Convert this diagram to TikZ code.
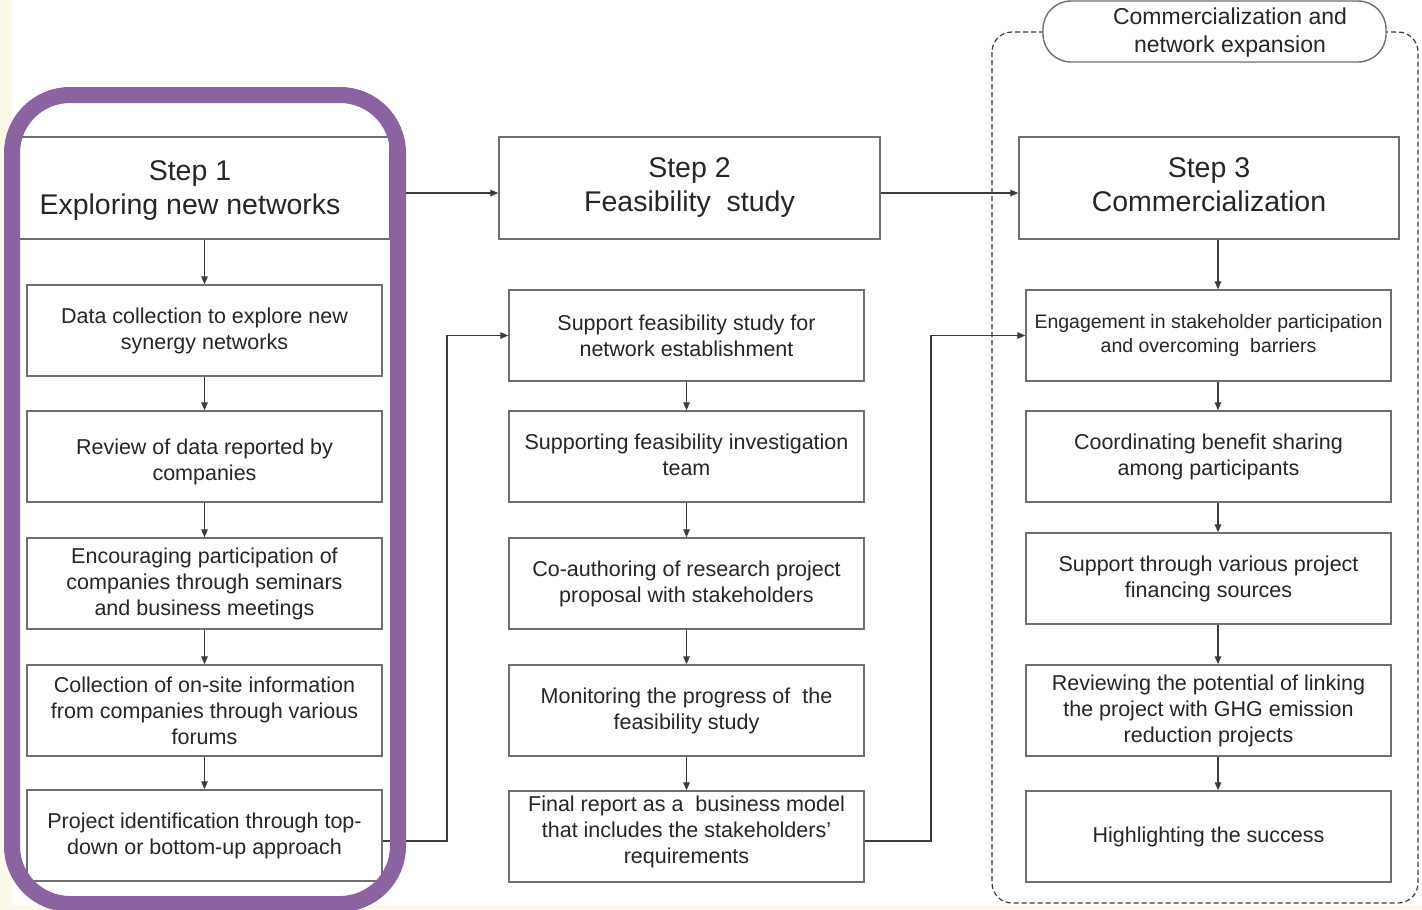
\documentclass[tikz,border=0pt]{standalone}
\usepackage{fontspec}
\setmainfont{Liberation Sans}
\usetikzlibrary{arrows.meta,calc}
\definecolor{cream}{RGB}{252,248,234}
\definecolor{purp}{RGB}{139,99,160}
\definecolor{boxline}{RGB}{112,112,112}
\definecolor{txt}{RGB}{38,38,38}
\definecolor{arrline}{RGB}{60,60,60}
\begin{document}
\begin{tikzpicture}[x=1pt,y=-1pt,
  itembox/.style={draw=boxline, line width=1.4pt, fill=white, minimum width=355pt,
    minimum height=91pt, inner sep=0pt, align=center, text=txt,
    font=\fontsize{21.5}{26}\selectfont},
  itemtext/.style={inner sep=0pt, align=center, text=txt, font=\fontsize{21.5}{26}\selectfont},
  hdrbox/.style={draw=boxline, line width=1.4pt, fill=white, minimum height=102pt,
    inner sep=0pt, align=center, text=txt, font=\fontsize{28.5}{34}\selectfont},
  hdrtext/.style={inner sep=0pt, align=center, text=txt, font=\fontsize{28.5}{34}\selectfont},
  pillbox/.style={draw=boxline, line width=1.4pt, fill=white, rounded corners=28pt,
    minimum width=343pt, minimum height=61pt, inner sep=0pt},
  pilltext/.style={inner sep=0pt, align=center, text=txt, font=\fontsize{23}{28}\selectfont},
  arr/.style={draw=arrline, line width=1.3pt, -{Triangle[length=8pt,width=6.5pt]}},
  region/.style={draw=arrline, line width=1.2pt, dash pattern=on 5pt off 3pt, rounded corners=20pt}
]
\useasboundingbox (0,0) rectangle (1422,910);
\fill[cream] (0,0) rectangle (1422,910);
\fill[white] (12,0) rectangle (1422,905);

% dashed region of step 3
\draw[region] (992,32) rectangle (1418,903);
\node[pillbox] (pill) at (1214.5,31.5) {};
\node[pilltext] (pillt) at (1230,33) {Commercialization and\\network expansion};

% headers
\node[hdrbox, minimum width=374pt] (h1) at (203,188) {};
\node[hdrtext] (h1t) at (190,191) {Step 1\\Exploring new networks};
\node[hdrbox, minimum width=381pt] (h2) at (689.5,188) {Step 2\\Feasibility\ \ study};
\node[hdrbox, minimum width=380pt] (h3) at (1209,188) {Step 3\\Commercialization\vphantom{y}};

% column 1
\node[itembox] (c11) at (204.5,330.5) {Data collection to explore new\\synergy networks\vphantom{y}};
\node[itembox] (c12) at (204.5,456.5) {};
\node[itemtext] (c12t) at (204.5,462) {Review of data reported by\\companies};
\node[itembox] (c13) at (204.5,583.5) {Encouraging participation of\\companies through seminars\\and business meetings};
\node[itembox] (c14) at (204.5,710.5) {Collection of on-site information\\from companies through various\\forums};
\node[itembox] (c15) at (204.5,835.5) {Project identification through top-\\down or bottom-up approach};

% column 2
\node[itembox] (c21) at (686.5,335.5) {Support feasibility study for\\network establishment};
\node[itembox] (c22) at (686.5,456.5) {Supporting feasibility investigation\\team\vphantom{y}};
\node[itembox] (c23) at (686.5,583.5) {Co-authoring of research project\\proposal with stakeholders};
\node[itembox] (c24) at (686.5,710.5) {Monitoring the progress of\ \ the\\feasibility study};
\node[itembox] (c25) at (686.5,836.5) {};
\node[itemtext] (c25t) at (686.5,832) {Final report as a\ \ business model\\that includes the stakeholders'\\requirements};

% column 3
\node[itembox, minimum width=365pt, font=\fontsize{19.5}{24}\selectfont] (c31) at (1208.5,335.5) {Engagement in stakeholder participation\\and overcoming\ \ barriers};
\node[itembox, minimum width=365pt] (c32) at (1208.5,456.5) {Coordinating benefit sharing\\among participants};
\node[itembox, minimum width=365pt] (c33) at (1208.5,578.5) {Support through various project\\financing sources};
\node[itembox, minimum width=365pt] (c34) at (1208.5,710.5) {Reviewing the potential of linking\\the project with GHG emission\\reduction projects};
\node[itembox, minimum width=365pt] (c35) at (1208.5,836.5) {Highlighting the success\vphantom{y}};

% header arrows
\coordinate (ya) at (0,193);
\draw[arr] (h1.east |- ya) -- (h2.west |- ya);
\draw[arr] (h2.east |- ya) -- (h3.west |- ya);

% column 1 arrows
\draw[arr] (h1.south -| c11.north) -- (c11.north);
\draw[arr] (c11) -- (c12);
\draw[arr] (c12) -- (c13);
\draw[arr] (c13) -- (c14);
\draw[arr] (c14) -- (c15);

% column 2 arrows
\draw[arr] (c21) -- (c22);
\draw[arr] (c22) -- (c23);
\draw[arr] (c23) -- (c24);
\draw[arr] (c24) -- (c25);

% column 3 arrows
\draw[arr] ([xshift=9.5pt]h3.south -| c31.north) -- ([xshift=9.5pt]c31.north);
\draw[arr] ([xshift=9.5pt]c31.south) -- ([xshift=9.5pt]c32.north);
\draw[arr] ([xshift=9.5pt]c32.south) -- ([xshift=9.5pt]c33.north);
\draw[arr] ([xshift=9.5pt]c33.south) -- ([xshift=9.5pt]c34.north);
\draw[arr] ([xshift=9.5pt]c34.south) -- ([xshift=9.5pt]c35.north);

% links between columns
\coordinate (j1) at (447,841);
\coordinate (j2) at (931,841);
\draw[arr] (c15.east |- j1) -- (j1) |- (c21.west);
\draw[arr] (c25.east |- j2) -- (j2) |- (c31.west);

% highlight of step 1
\draw[purp, line width=16pt, rounded corners=58pt] (12,95) rectangle (398,904);
\end{tikzpicture}
\end{document}
